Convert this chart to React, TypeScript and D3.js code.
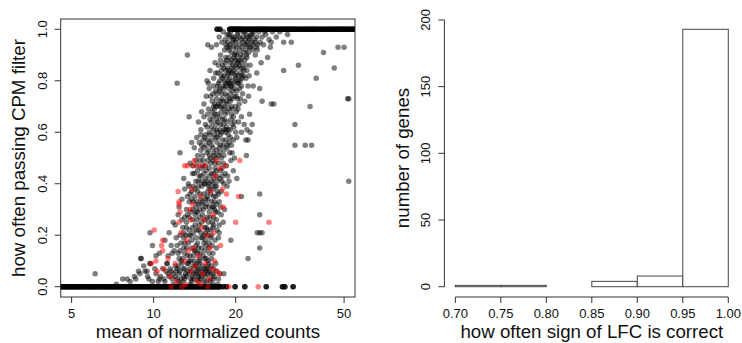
import React from "react";
import * as d3 from "d3";

// ---------- Left panel data ----------
// x: mean of normalized counts, y: fraction passing CPM filter
const zeroBandX: number[] = [
  4.0, 4.05, 4.1, 4.15, 4.2, 4.25, 4.3, 4.35, 4.4, 4.45, 4.5, 4.55, 4.6, 4.66, 4.72, 4.78, 4.84, 4.9, 4.96,
  5.02, 5.08, 5.14, 5.2, 5.26, 5.33, 5.4, 5.47, 5.54, 5.61, 5.68, 5.75, 5.82, 5.89, 5.96, 6.03, 6.1, 6.18,
  6.26, 6.34, 6.42, 6.5, 6.58, 6.66, 6.74, 6.82, 6.9, 6.99, 7.08, 7.17, 7.26, 7.35, 7.44, 7.53, 7.62, 7.72,
  7.82, 7.92, 8.02, 8.12, 8.22, 8.32, 8.42, 8.53, 8.64, 8.75, 8.86, 8.97, 9.08, 9.19, 9.3, 9.42, 9.54, 9.66,
  9.78, 9.9, 10.02, 10.14, 10.26, 10.39, 10.52, 10.65, 10.78, 10.91, 11.04, 11.18, 11.32, 11.46, 11.6, 11.74,
  11.88, 12.03, 12.18, 12.33, 12.48, 12.63, 12.78, 12.94, 13.1, 13.26, 13.42, 13.58, 13.75, 13.92, 14.09,
  14.26, 14.43, 14.61, 14.79, 14.97, 15.15, 15.33, 15.52, 15.71, 15.9, 16.09, 16.28, 16.48, 16.68, 16.88,
  17.08, 17.3, 17.5, 18.0, 18.5, 19.9, 21.6, 25.9, 29.7, 30.3, 32.5,
];

const oneBandX: number[] = [
  17.1, 17.5, 19.0, 19.2, 19.4, 19.6, 19.8, 20.0, 20.2, 20.4, 20.6, 20.8, 21.0, 21.3, 21.6, 21.9, 22.2, 22.5,
  22.8, 23.1, 23.4, 23.7, 24.0, 24.3, 24.6, 24.9, 25.2, 25.5, 25.8, 26.1, 26.4, 26.8, 27.2, 27.6, 28.0,
  28.4, 28.8, 29.2, 29.6, 30.0, 30.4, 30.8, 31.2, 31.6, 32.0, 32.4, 32.8, 33.2, 33.7, 34.2, 34.7, 35.2,
  35.7, 36.2, 36.7, 37.2, 37.7, 38.2, 38.7, 39.2, 39.7, 40.3, 40.9, 41.5, 42.1, 42.7, 43.3, 43.9, 44.5,
  45.1, 45.7, 46.3, 46.9, 47.5, 48.1, 48.7, 49.3, 50.0, 50.7, 51.4, 52.1, 52.8, 53.5, 54.2, 54.9, 55.6, 56.3,
];

const blackPts: [number, number][] = [
  // 0.9 - 1.0
  [18.0, 0.99], [18.6, 0.98], [19.2, 0.99], [19.8, 0.97], [20.3, 0.98], [20.9, 0.96], [21.5, 0.99], [22.1, 0.97],
  [22.8, 0.98], [23.5, 0.96], [24.3, 0.99], [25.0, 0.97], [25.8, 0.98], [26.5, 0.96], [27.3, 0.99], [28.2, 0.97],
  [29.0, 0.99], [31.0, 0.98], [18.3, 0.96], [19.5, 0.95], [20.6, 0.94], [21.2, 0.95], [22.4, 0.93], [23.1, 0.94],
  [24.0, 0.92], [25.3, 0.94], [26.8, 0.93], [27.0, 0.95], [30.0, 0.95], [32.0, 0.95], [15.8, 0.94], [17.0, 0.94],
  [16.3, 0.93], [18.9, 0.92], [20.0, 0.91], [21.8, 0.92], [23.6, 0.9], [17.6, 0.9], [18.4, 0.89], [19.3, 0.88],
  [20.4, 0.88], [21.0, 0.87], [22.0, 0.89], [24.8, 0.87], [26.2, 0.89], [13.3, 0.9], [19.0, 0.97], [20.1, 0.96],
  [21.7, 0.96], [22.9, 0.95], [19.7, 0.93], [21.4, 0.91], [18.7, 0.95], [17.4, 0.97], [23.9, 0.97], [25.5, 0.99],
  [18.6, 0.93], [19.1, 0.94], [19.6, 0.96], [20.1, 0.93], [20.6, 0.97], [21.1, 0.93], [21.6, 0.94], [22.1, 0.95],
  [22.6, 0.97], [23.1, 0.92], [23.6, 0.95], [19.3, 0.91], [20.8, 0.9], [22.3, 0.91], [18.9, 0.98], [20.4, 0.99],
  [21.9, 0.98], [23.3, 0.99], [24.6, 0.95], [19.8, 0.9], [21.3, 0.97], [22.7, 0.93], [18.2, 0.92], [17.8, 0.95],
  [24.1, 0.94], [19.4, 0.97], [20.0, 0.95], [20.7, 0.92], [21.3, 0.99], [22.0, 0.94], [22.5, 0.96], [23.0, 0.98],
  [19.0, 0.93], [18.4, 0.94], [21.9, 0.9], [20.2, 0.9], [23.8, 0.93],
  // 0.8 - 0.9
  [16.8, 0.87], [17.9, 0.86], [18.7, 0.85], [19.6, 0.84], [20.2, 0.85], [21.4, 0.84], [22.6, 0.86], [23.9, 0.83],
  [17.2, 0.83], [18.1, 0.82], [19.0, 0.81], [19.9, 0.82], [20.8, 0.8], [21.8, 0.81], [16.6, 0.81], [17.5, 0.8],
  [18.4, 0.79], [19.3, 0.78], [20.5, 0.79], [22.2, 0.78], [23.2, 0.78], [16.1, 0.84], [24.5, 0.77], [15.7, 0.8],
  [18.9, 0.84], [20.9, 0.83], [30.0, 0.84], [34.0, 0.86], [39.5, 0.81], [42.0, 0.91], [47.5, 0.93], [50.0, 0.93],
  [46.0, 0.85], [12.2, 0.79], [18.5, 0.88], [20.0, 0.86], [19.4, 0.83], [21.1, 0.89], [17.7, 0.84], [20.4, 0.82],
  [17.6, 0.88], [18.1, 0.85], [18.6, 0.82], [19.1, 0.87], [19.6, 0.8], [20.1, 0.83], [20.6, 0.86], [21.1, 0.81],
  [21.6, 0.88], [17.9, 0.81], [18.4, 0.84], [18.9, 0.89], [19.4, 0.85], [19.9, 0.88], [20.4, 0.8], [20.9, 0.85],
  [21.4, 0.82], [22.0, 0.84], [17.3, 0.86], [18.8, 0.8], [20.7, 0.88], [19.2, 0.83], [16.9, 0.83], [22.4, 0.82],
  [18.3, 0.87], [18.8, 0.83], [19.5, 0.86], [20.3, 0.87], [21.0, 0.82], [21.8, 0.86], [17.7, 0.82], [19.0, 0.79],
  [20.0, 0.81], [19.7, 0.89], [18.2, 0.8], [21.3, 0.85],
  // 0.7 - 0.8
  [16.0, 0.77], [16.9, 0.76], [17.8, 0.75], [18.6, 0.74], [19.5, 0.76], [20.3, 0.73], [21.2, 0.75], [15.6, 0.74],
  [16.4, 0.72], [17.3, 0.71], [18.2, 0.7], [19.1, 0.72], [20.0, 0.7], [21.6, 0.72], [25.0, 0.72], [27.0, 0.71],
  [27.6, 0.71], [37.5, 0.7], [15.3, 0.71], [17.0, 0.73], [18.9, 0.77], [20.7, 0.77], [22.3, 0.74], [18.0, 0.78],
  [19.8, 0.74], [17.5, 0.77], [52.0, 0.73], [51.5, 0.73],
  [16.6, 0.78], [17.1, 0.75], [17.6, 0.72], [18.1, 0.77], [18.6, 0.71], [19.1, 0.75], [19.6, 0.79], [20.1, 0.74],
  [20.6, 0.71], [16.8, 0.71], [17.3, 0.79], [17.8, 0.73], [18.3, 0.75], [18.8, 0.79], [19.3, 0.7], [19.8, 0.77],
  [20.3, 0.79], [16.2, 0.74], [17.5, 0.76], [18.5, 0.72], [21.0, 0.78], [15.9, 0.79], [19.0, 0.73],
  [17.2, 0.78], [17.7, 0.7], [18.4, 0.78], [19.4, 0.73], [20.2, 0.76], [16.5, 0.75], [18.0, 0.72], [19.2, 0.78],
  [20.8, 0.73], [17.0, 0.7],
  // 0.6 - 0.7
  [15.0, 0.68], [15.8, 0.67], [16.7, 0.69], [17.5, 0.66], [18.3, 0.67], [19.2, 0.65], [20.1, 0.68], [21.0, 0.66],
  [14.6, 0.64], [15.5, 0.63], [16.3, 0.62], [17.2, 0.64], [18.0, 0.63], [18.8, 0.61], [19.7, 0.62], [21.5, 0.63],
  [23.0, 0.63], [22.0, 0.61], [16.0, 0.6], [17.8, 0.6], [19.4, 0.69], [13.5, 0.66], [22.5, 0.67], [33.0, 0.63],
  [14.9, 0.61], [16.5, 0.66], [18.6, 0.68], [20.5, 0.64], [17.0, 0.61],
  [16.1, 0.65], [16.6, 0.61], [17.1, 0.67], [17.6, 0.63], [18.1, 0.69], [18.6, 0.64], [19.1, 0.61], [19.6, 0.66],
  [16.4, 0.68], [16.9, 0.63], [17.4, 0.7], [17.9, 0.65], [18.4, 0.61], [18.9, 0.69], [19.4, 0.63], [20.0, 0.6],
  [15.7, 0.62], [15.3, 0.66], [17.2, 0.6], [18.2, 0.65], [20.4, 0.69], [16.6, 0.7],
  [16.3, 0.64], [17.0, 0.65], [17.7, 0.68], [18.5, 0.62], [19.3, 0.67], [16.8, 0.67], [18.1, 0.61], [19.8, 0.64],
  [15.9, 0.69], [17.5, 0.61],
  // 0.5 - 0.6
  [14.4, 0.58], [15.2, 0.57], [16.0, 0.56], [16.9, 0.58], [17.6, 0.55], [18.4, 0.57], [19.3, 0.55], [20.2, 0.58],
  [14.1, 0.54], [14.9, 0.53], [15.7, 0.52], [16.5, 0.54], [17.3, 0.51], [18.1, 0.53], [19.0, 0.52], [19.8, 0.5],
  [21.8, 0.57], [21.9, 0.51], [22.2, 0.57], [33.0, 0.55], [36.0, 0.55], [38.0, 0.55], [12.5, 0.52], [15.5, 0.59],
  [13.8, 0.56], [18.8, 0.59], [16.2, 0.5], [21.0, 0.6], [22.6, 0.6], [15.0, 0.55], [17.0, 0.53], [18.6, 0.55],
  [15.1, 0.51], [15.6, 0.55], [16.1, 0.59], [16.6, 0.52], [17.1, 0.56], [17.6, 0.59], [18.1, 0.51], [18.6, 0.54],
  [19.1, 0.58], [15.4, 0.58], [15.9, 0.53], [16.4, 0.57], [16.9, 0.5], [17.4, 0.54], [17.9, 0.57], [18.4, 0.6],
  [19.4, 0.52], [14.7, 0.56], [16.0, 0.51], [17.5, 0.52], [14.5, 0.51], [16.7, 0.59],
  [15.3, 0.54], [16.3, 0.55], [17.2, 0.58], [18.0, 0.55], [18.9, 0.56], [15.8, 0.57], [16.7, 0.51], [17.7, 0.5],
  [19.6, 0.57], [14.9, 0.59],
  // 0.4 - 0.5
  [13.6, 0.48], [14.4, 0.47], [15.2, 0.49], [16.0, 0.46], [16.8, 0.48], [17.6, 0.45], [18.5, 0.47], [13.9, 0.44],
  [14.7, 0.43], [15.5, 0.42], [16.3, 0.44], [17.1, 0.41], [17.9, 0.43], [18.9, 0.41], [19.6, 0.45], [13.4, 0.4],
  [14.3, 0.41], [15.9, 0.4], [52.0, 0.41], [12.9, 0.42], [20.2, 0.42], [15.0, 0.46], [16.5, 0.49], [19.2, 0.49],
  [14.5, 0.45], [15.0, 0.41], [15.5, 0.47], [16.0, 0.43], [16.5, 0.4], [17.0, 0.45], [17.5, 0.42], [18.0, 0.48],
  [14.8, 0.49], [15.3, 0.44], [15.8, 0.49], [16.3, 0.41], [16.8, 0.46], [17.3, 0.48], [17.8, 0.41], [18.3, 0.44],
  [14.1, 0.44], [15.6, 0.45], [16.6, 0.44], [14.6, 0.41], [13.9, 0.47], [18.7, 0.43],
  [14.9, 0.43], [15.7, 0.41], [16.2, 0.48], [17.1, 0.43], [17.8, 0.46], [15.1, 0.47], [16.6, 0.42], [18.1, 0.4],
  [14.3, 0.49], [15.4, 0.4],
  // 0.3 - 0.4
  [13.0, 0.38], [13.8, 0.37], [14.6, 0.39], [15.3, 0.36], [16.1, 0.38], [16.9, 0.35], [17.7, 0.37], [18.6, 0.39],
  [12.7, 0.34], [13.5, 0.33], [14.2, 0.35], [15.0, 0.32], [15.8, 0.34], [16.6, 0.31], [17.4, 0.33], [18.2, 0.3],
  [21.0, 0.35], [24.5, 0.36], [12.4, 0.31], [13.2, 0.3], [14.8, 0.3], [16.2, 0.36], [14.0, 0.39], [17.0, 0.39],
  [15.5, 0.31], [14.4, 0.33],
  [14.0, 0.33], [14.5, 0.37], [15.0, 0.39], [15.5, 0.34], [16.0, 0.31], [16.5, 0.38], [17.0, 0.32], [14.3, 0.31],
  [14.8, 0.36], [15.3, 0.4], [15.8, 0.37], [16.3, 0.33], [16.8, 0.39], [17.3, 0.36], [13.6, 0.36], [13.3, 0.35],
  [15.6, 0.32], [16.6, 0.35], [17.6, 0.31], [13.9, 0.3], [14.9, 0.34],
  [14.2, 0.38], [15.1, 0.33], [15.9, 0.39], [16.7, 0.33], [14.6, 0.32], [15.7, 0.35], [16.4, 0.31], [13.8, 0.34],
  [17.1, 0.37], [13.5, 0.39],
  // 0.2 - 0.3
  [12.3, 0.28], [13.0, 0.27], [13.7, 0.29], [14.4, 0.26], [15.1, 0.28], [15.9, 0.25], [16.6, 0.27], [17.4, 0.24],
  [12.0, 0.24], [12.8, 0.23], [13.5, 0.22], [14.2, 0.24], [14.9, 0.21], [15.6, 0.23], [16.3, 0.2], [17.1, 0.22],
  [18.0, 0.25], [11.8, 0.25], [11.4, 0.21], [13.9, 0.26], [24.0, 0.21], [24.5, 0.21], [25.0, 0.21], [24.5, 0.28],
  [9.7, 0.21], [17.7, 0.28], [15.4, 0.26], [16.9, 0.29], [13.2, 0.25], [14.6, 0.22],
  [13.5, 0.27], [14.0, 0.21], [14.5, 0.29], [15.0, 0.25], [15.5, 0.21], [16.0, 0.29], [16.5, 0.23], [17.0, 0.26],
  [13.7, 0.2], [14.2, 0.28], [14.7, 0.24], [15.2, 0.3], [15.7, 0.27], [16.2, 0.22], [16.7, 0.3], [13.2, 0.23],
  [12.7, 0.26], [15.4, 0.23], [14.4, 0.22], [16.4, 0.25], [12.5, 0.2], [17.4, 0.21],
  [13.9, 0.23], [14.8, 0.27], [15.8, 0.22], [16.6, 0.24], [13.3, 0.28], [14.3, 0.29], [15.3, 0.2], [16.1, 0.27],
  [12.9, 0.21], [17.2, 0.29],
  // 0.1 - 0.2
  [11.0, 0.18], [11.6, 0.16], [12.1, 0.19], [12.6, 0.17], [13.2, 0.15], [13.8, 0.18], [14.3, 0.16], [14.9, 0.19],
  [15.4, 0.14], [16.0, 0.17], [16.5, 0.13], [17.0, 0.15], [11.3, 0.12], [11.9, 0.14], [12.4, 0.11], [13.0, 0.13],
  [13.6, 0.12], [14.1, 0.14], [14.7, 0.11], [15.2, 0.12], [15.8, 0.1], [16.3, 0.11], [10.5, 0.13], [24.5, 0.15],
  [22.2, 0.11], [9.0, 0.11], [17.3, 0.19], [9.9, 0.16], [19.2, 0.18], [12.9, 0.19], [15.6, 0.16], [14.5, 0.13],
  [11.2, 0.09], [9.7, 0.09], [10.2, 0.12],
  [12.5, 0.14], [13.0, 0.17], [13.5, 0.2], [14.0, 0.12], [14.5, 0.17], [15.0, 0.15], [15.5, 0.18], [16.0, 0.13],
  [12.8, 0.11], [13.3, 0.12], [13.8, 0.15], [14.3, 0.19], [14.8, 0.13], [15.3, 0.17], [15.8, 0.2], [16.4, 0.16],
  [12.2, 0.16], [11.7, 0.13], [14.1, 0.1], [15.6, 0.11], [16.8, 0.18], [13.1, 0.2],
  [13.4, 0.17], [14.2, 0.14], [15.1, 0.19], [15.9, 0.15], [12.9, 0.15], [13.7, 0.1], [14.6, 0.15], [16.2, 0.19],
  [12.3, 0.13], [15.4, 0.11],
  // 0.0 - 0.1
  [8.0, 0.03], [7.3, 0.01], [6.1, 0.05], [8.5, 0.04], [8.8, 0.06], [9.2, 0.08], [9.5, 0.04], [9.9, 0.02],
  [10.2, 0.05], [10.5, 0.03], [10.8, 0.07], [11.0, 0.02], [11.2, 0.09], [11.4, 0.04], [11.6, 0.06], [11.8, 0.01],
  [12.0, 0.08], [12.2, 0.03], [12.4, 0.05], [12.6, 0.1], [12.8, 0.02], [13.0, 0.07], [13.2, 0.04], [13.4, 0.09],
  [13.6, 0.01], [13.8, 0.06], [14.0, 0.03], [14.2, 0.08], [14.4, 0.05], [14.6, 0.02], [14.8, 0.1], [15.0, 0.04],
  [15.3, 0.07], [15.6, 0.02], [15.9, 0.09], [16.2, 0.05], [16.6, 0.03], [17.0, 0.06], [17.5, 0.05], [18.1, 0.05],
  [11.3, 0.05], [11.7, 0.03], [12.1, 0.06], [12.5, 0.01], [12.9, 0.04], [13.3, 0.06], [13.7, 0.03], [14.1, 0.05],
  [14.5, 0.07], [14.9, 0.03], [15.3, 0.05], [15.7, 0.08], [16.1, 0.02], [16.5, 0.05], [16.9, 0.09], [17.3, 0.03],
  [12.3, 0.08], [13.5, 0.1], [14.7, 0.09], [15.9, 0.06], [10.6, 0.04], [9.6, 0.03], [9.3, 0.06], [8.6, 0.03],
  [8.2, 0.02], [7.7, 0.03], [8.9, 0.05], [10.1, 0.07], [10.4, 0.02], [8.97, 0.11], [9.46, 0.06], [9.72, 0.09],
  [11.5, 0.07], [12.0, 0.04], [12.5, 0.06], [13.0, 0.03], [13.5, 0.05], [14.0, 0.08], [14.5, 0.03], [15.0, 0.06],
  [15.5, 0.04], [16.0, 0.07], [16.5, 0.01], [11.8, 0.05], [12.3, 0.02], [12.8, 0.07], [13.3, 0.09], [13.8, 0.02],
  [14.3, 0.06], [14.8, 0.05], [15.3, 0.02], [15.8, 0.05], [16.3, 0.08], [12.6, 0.03], [13.6, 0.07], [14.6, 0.04],
  [15.6, 0.07], [11.1, 0.06], [10.9, 0.03], [17.2, 0.01], [16.7, 0.04],
  [12.2, 0.07], [13.1, 0.05], [13.9, 0.04], [14.7, 0.07], [15.5, 0.06], [16.2, 0.03], [12.7, 0.09], [14.4, 0.09],
  [15.1, 0.08], [16.6, 0.07],
];

const redPts: [number, number][] = [
  [10.05, 0.22], [10.8, 0.18], [10.7, 0.16], [10.8, 0.14], [9.8, 0.09], [10.2, 0.1], [10.3, 0.06], [10.9, 0.07],
  [11.5, 0.04], [12.3, 0.37], [12.4, 0.32], [12.5, 0.29], [12.4, 0.25], [12.6, 0.21], [13.0, 0.47], [13.3, 0.47],
  [14.0, 0.47], [14.1, 0.49], [13.8, 0.38], [13.9, 0.32], [13.6, 0.3], [13.2, 0.18], [13.4, 0.14], [13.0, 0.1],
  [13.7, 0.06], [14.2, 0.08], [14.6, 0.12], [15.1, 0.05], [15.5, 0.09], [16.0, 0.03], [16.4, 0.07], [14.9, 0.35],
  [15.3, 0.26], [15.7, 0.2], [16.1, 0.15], [16.7, 0.1], [17.1, 0.06], [16.8, 0.43], [17.0, 0.49], [17.5, 0.46],
  [16.2, 0.37], [18.3, 0.47], [18.5, 0.36], [18.0, 0.31], [20.7, 0.49], [20.5, 0.35], [20.0, 0.25], [24.2, 0.0],
  [18.9, 0.0], [26.5, 0.25], [12.1, 0.02], [13.1, 0.01], [14.4, 0.02], [15.8, 0.0], [11.6, 0.0], [12.7, 0.0],
  [14.9, 0.01], [17.5, 0.05], [12.0, 0.09], [11.3, 0.11], [14.0, 0.15], [16.6, 0.21], [17.6, 0.16], [15.0, 0.23],
  [13.7, 0.26], [16.5, 0.28], [12.4, 0.33], [17.9, 0.38], [14.7, 0.47], [15.4, 0.47],
];

const leftXTicks = [5, 10, 20, 50];
const leftYTicks = [0, 0.2, 0.4, 0.6, 0.8, 1.0];

// ---------- Right panel data ----------
const binEdges = [0.7, 0.75, 0.8, 0.85, 0.9, 0.95, 1.0];
const binCounts = [1, 1, 0, 4, 8, 193];
const rightXTicks = [0.7, 0.75, 0.8, 0.85, 0.9, 0.95, 1.0];
const rightYTicks = [0, 50, 100, 150, 200];

const FONT = "'Liberation Sans', Arial, Helvetica, sans-serif";
const TICK_FS = 13;
const LAB_FS = 18.7;
const INK = "#111";

export default function App() {
  const L = { x0: 60.7, x1: 355, y0: 19, y1: 297 };
  const R = { x0: 444.4, x1: 739.2, y0: 19, y1: 297 };

  const lx = d3.scaleLog().domain([5 / Math.pow(10, 0.04), 50 * Math.pow(10, 0.04)]).range([L.x0, L.x1]);
  const ly = d3.scaleLinear().domain([-0.04, 1.04]).range([L.y1, L.y0]);

  const ymax = d3.max(binCounts) as number;
  const rx = d3.scaleLinear().domain([0.7 - 0.012, 1.0 + 0.012]).range([R.x0, R.x1]);
  const ry = d3.scaleLinear().domain([-0.04 * ymax, ymax * 1.04]).range([R.y1, R.y0]);

  const r = 2.75;
  const blackFill = "rgba(0,0,0,0.5)";
  const redFill = "rgba(255,0,0,0.5)";
  const tickLen = 6;

  return (
    <svg width={742} height={343} style={{ position: "absolute", left: 0, top: 0, background: "#fff" }} fontFamily={FONT}>
      <defs>
        <clipPath id="lclip">
          <rect x={L.x0} y={L.y0} width={L.x1 - L.x0} height={L.y1 - L.y0} />
        </clipPath>
      </defs>
      <rect x={0} y={0} width={742} height={343} fill="#fff" />

      <g clipPath="url(#lclip)">
        {[0, 1, 2].map((k) =>
          zeroBandX.map((x, i) => <circle key={`z${k}-${i}`} cx={lx(x)} cy={ly(0)} r={r} fill={blackFill} />)
        )}
        {[0, 1, 2].map((k) =>
          oneBandX.map((x, i) => <circle key={`o${k}-${i}`} cx={lx(x)} cy={ly(1)} r={r} fill={blackFill} />)
        )}
        {blackPts.map(([x, y], i) => (
          <circle key={"b" + i} cx={lx(x)} cy={ly(y)} r={r} fill={blackFill} />
        ))}
        {redPts.map(([x, y], i) => (
          <circle key={"r" + i} cx={lx(x)} cy={ly(y)} r={r} fill={redFill} />
        ))}
      </g>
      <rect x={L.x0} y={L.y0} width={L.x1 - L.x0} height={L.y1 - L.y0} fill="none" stroke="#333" strokeWidth={1} />

      {leftXTicks.map((t) => (
        <g key={"lxt" + t}>
          <line x1={lx(t)} x2={lx(t)} y1={L.y1} y2={L.y1 + tickLen} stroke="#333" />
          <text x={lx(t)} y={L.y1 + 21} fontSize={TICK_FS} textAnchor="middle" fill={INK}>{t}</text>
        </g>
      ))}
      {leftYTicks.map((t) => (
        <g key={"lyt" + t}>
          <line x1={L.x0} x2={L.x0 - tickLen} y1={ly(t)} y2={ly(t)} stroke="#333" />
          <text transform={`translate(${L.x0 - 14},${ly(t)}) rotate(-90)`} fontSize={TICK_FS} textAnchor="middle" fill={INK}>
            {t.toFixed(1)}
          </text>
        </g>
      ))}
      <text x={(L.x0 + L.x1) / 2} y={338} fontSize={LAB_FS} textAnchor="middle" fill={INK}>mean of normalized counts</text>
      <text transform={`translate(25,${(L.y0 + L.y1) / 2}) rotate(-90)`} fontSize={LAB_FS} textAnchor="middle" fill={INK}>
        how often passing CPM filter
      </text>

      {binCounts.map((c, i) => (
        <rect
          key={"bar" + i}
          x={rx(binEdges[i])}
          y={ry(c)}
          width={rx(binEdges[i + 1]) - rx(binEdges[i])}
          height={ry(0) - ry(c)}
          fill="#fff"
          stroke="#444"
          strokeWidth={1}
        />
      ))}
      <line x1={rx(0.7)} x2={rx(1.0)} y1={R.y1} y2={R.y1} stroke="#333" />
      {rightXTicks.map((t) => (
        <g key={"rxt" + t}>
          <line x1={rx(t)} x2={rx(t)} y1={R.y1} y2={R.y1 + tickLen} stroke="#333" />
          <text x={rx(t)} y={R.y1 + 21} fontSize={TICK_FS} textAnchor="middle" fill={INK}>{t.toFixed(2)}</text>
        </g>
      ))}
      <line x1={R.x0} x2={R.x0} y1={ry(0)} y2={ry(200)} stroke="#333" />
      {rightYTicks.map((t) => (
        <g key={"ryt" + t}>
          <line x1={R.x0} x2={R.x0 - tickLen} y1={ry(t)} y2={ry(t)} stroke="#333" />
          <text transform={`translate(${R.x0 - 14},${ry(t)}) rotate(-90)`} fontSize={TICK_FS} textAnchor="middle" fill={INK}>
            {t}
          </text>
        </g>
      ))}
      <text x={(R.x0 + R.x1) / 2} y={338} fontSize={LAB_FS} textAnchor="middle" fill={INK}>how often sign of LFC is correct</text>
      <text transform={`translate(409,${(R.y0 + R.y1) / 2}) rotate(-90)`} fontSize={LAB_FS} textAnchor="middle" fill={INK}>
        number of genes
      </text>
    </svg>
  );
}
